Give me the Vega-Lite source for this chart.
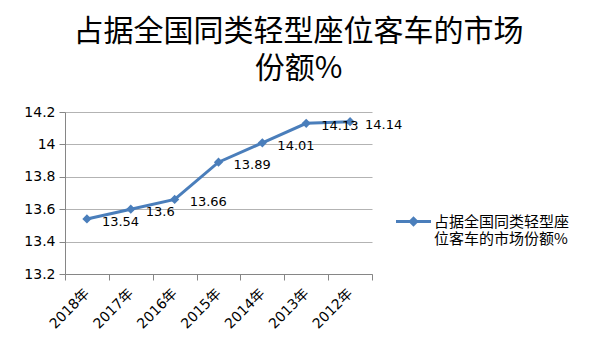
{
  "$schema": "https://vega.github.io/schema/vega-lite/v6.json",
  "autosize": {"type": "none"},
  "width": 307,
  "height": 162,
  "padding": {"left": 65, "top": 112, "right": 228, "bottom": 85},
  "background": "white",
  "title": {
    "text": ["占据全国同类轻型座位客车的市场", "份额%"],
    "fontSize": 30,
    "font": "Noto Sans CJK SC",
    "fontWeight": "normal",
    "color": "#000000",
    "anchor": "middle",
    "frame": "group",
    "dx": 80,
    "offset": 21,
    "lineHeight": 37
  },
  "data": {
    "values": [
      {"year": "2018年", "share": 13.54, "series": "占据全国同类轻型座位客车的市场份额%"},
      {"year": "2017年", "share": 13.6, "series": "占据全国同类轻型座位客车的市场份额%"},
      {"year": "2016年", "share": 13.66, "series": "占据全国同类轻型座位客车的市场份额%"},
      {"year": "2015年", "share": 13.89, "series": "占据全国同类轻型座位客车的市场份额%"},
      {"year": "2014年", "share": 14.01, "series": "占据全国同类轻型座位客车的市场份额%"},
      {"year": "2013年", "share": 14.13, "series": "占据全国同类轻型座位客车的市场份额%"},
      {"year": "2012年", "share": 14.14, "series": "占据全国同类轻型座位客车的市场份额%"}
    ]
  },
  "encoding": {
    "x": {
      "field": "year",
      "type": "ordinal",
      "sort": null,
      "scale": {"type": "band", "paddingInner": 0, "paddingOuter": 0},
      "axis": {
        "title": null,
        "tickBand": "extent",
        "grid": false,
        "domainColor": "#868686",
        "tickColor": "#868686",
        "tickSize": 6,
        "labelAngle": -45,
        "labelAlign": "right",
        "labelBaseline": "middle",
        "labelFontSize": 14,
        "labelFont": "DejaVu Sans, Noto Sans CJK SC",
        "labelColor": "#000000",
        "labelPadding": 11
      }
    },
    "y": {
      "field": "share",
      "type": "quantitative",
      "scale": {"domain": [13.2, 14.2], "nice": false, "zero": false},
      "axis": {
        "title": null,
        "values": [13.2, 13.4, 13.6, 13.8, 14.0, 14.2],
        "format": ".3~r",
        "grid": true,
        "gridColor": "#b3b3b3",
        "domainColor": "#868686",
        "tickColor": "#868686",
        "tickSize": 6,
        "labelPadding": 4,
        "labelFontSize": 14,
        "labelFont": "DejaVu Sans",
        "labelColor": "#000000"
      }
    }
  },
  "layer": [
    {"mark": {"type": "line", "color": "#4a7ebb", "strokeWidth": 3}},
    {
      "mark": {"type": "point", "filled": true, "shape": "diamond", "size": 85, "opacity": 1},
      "encoding": {
        "color": {
          "field": "series",
          "type": "nominal",
          "scale": {"range": ["#4a7ebb"]},
          "legend": {
            "title": null,
            "orient": "none",
            "legendX": 331,
            "legendY": 92,
            "symbolType": "M-1,-0.086L1,-0.086L1,0.086L-1,0.086Z M0,-0.3L0.3,0L0,0.3L-0.3,0Z",
            "symbolSize": 1225,
            "symbolStrokeWidth": 0,
            "labelExpr": "['占据全国同类轻型座', '位客车的市场份额%']",
            "labelFontSize": 15,
            "labelFont": "Noto Sans CJK SC",
            "labelColor": "#000000",
            "labelLineHeight": 20,
            "labelLimit": 300,
            "labelOffset": 3
          }
        }
      }
    },
    {
      "mark": {"type": "text", "align": "left", "dx": 15, "dy": 3, "fontSize": 13, "font": "DejaVu Sans", "color": "#000000"},
      "encoding": {"text": {"field": "share", "type": "quantitative"}}
    }
  ],
  "config": {"view": {"stroke": null}}
}
